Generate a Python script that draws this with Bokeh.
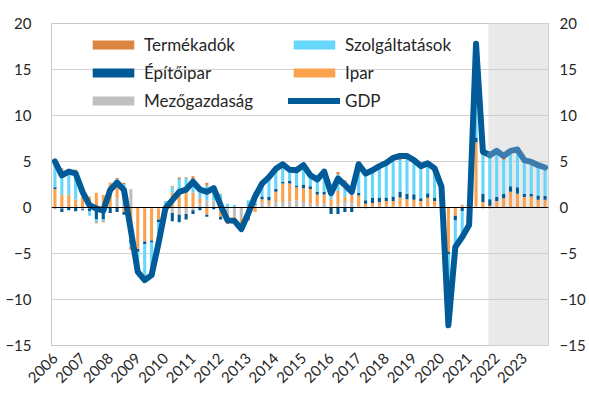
import math
from bokeh.plotting import figure
from bokeh.models import (ColumnDataSource, Range1d, LinearAxis, FixedTicker, Span,
                          BoxAnnotation, Legend, LegendItem)
from bokeh.embed import file_html
from bokeh.resources import INLINE

# ---------------- data (quarterly, 2006Q1 .. 2023Q4) ----------------
year_labels = ["2006", "2007", "2008", "2009", "2010", "2011", "2012", "2013", "2014",
               "2015", "2016", "2017", "2018", "2019", "2020", "2021", "2022", "2023"]

gdp = [5.0, 3.5, 3.9, 3.7,
       1.7, 0.25, -0.1, -0.35,
       1.9, 2.7, 1.9, -2.5,
       -7.0, -7.9, -7.35, -3.9,
       -0.1, 0.8, 1.7, 1.95,
       2.8, 1.96, 1.7, 2.1,
       0.25, -1.4, -1.45, -2.35,
       -0.65, 1.2, 2.6, 3.3,
       4.2, 4.7, 4.1, 4.05,
       4.6, 3.5, 3.05, 3.9,
       1.55, 3.15, 2.45, 1.7,
       4.7, 3.7, 4.05, 4.5,
       4.85, 5.4, 5.6, 5.6,
       5.15, 4.5, 4.8, 4.25,
       2.25, -12.8, -4.3, -3.2,
       -1.9, 17.8, 6.05, 5.7,
       6.15, 5.6, 6.15, 6.3,
       5.15, 4.95, 4.6, 4.35]

mezogazdasag = [-0.2, -0.1, 0.0, 0.0,
                -0.2, -0.1, -0.3, -0.3,
                0.0, 1.0, 2.2, 2.0,
                0.0, -0.1, -0.1, -0.1,
                -0.2, -0.6, -0.8, -0.7,
                -0.3, 0.4, 0.8, 0.8,
                -0.4, -0.8, -1.0, -1.2,
                -0.3, 0.3, 0.6, 0.3,
                0.6, 0.6, 0.7, 0.8,
                0.6, 0.4, 0.3, 0.5,
                0.2, 0.3, 0.6, 0.6,
                0.1, -0.1, 0.1, 0.15,
                0.1, 0.1, 0.2, 0.1,
                0.15, 0.2, 0.1, 0.1,
                0.0, 0.0, 0.0, 0.1,
                0.0, 0.1, -0.1, -0.1,
                0.0, 0.0, 0.0, 0.0,
                0.0, 0.0, 0.0, 0.0]

ipar = [2.0, 1.35, 1.4, 0.85,
        1.2, 1.2, 1.6, 1.35,
        2.6, 1.6, -0.5, -3.5,
        -4.5, -3.6, -3.5, -1.2,
        0.3, 1.6, 1.9, 2.0,
        1.6, 0.6, -0.8, 0.0,
        -0.6, -0.5, -0.3, -0.8,
        -0.8, -0.5, 0.3, 0.5,
        1.1, 2.0, 1.9, 1.4,
        1.5, 1.6, 1.1, 0.9,
        0.7, 1.5, 0.6, 0.8,
        1.2, 0.4, 0.4, 0.45,
        0.6, 0.6, 0.9, 0.8,
        0.7, 0.5, 0.95, 0.6,
        0.3, -4.8, -0.9, 0.2,
        0.4, 7.0, 0.6, 0.2,
        0.7, 1.0, 1.7, 1.5,
        1.15, 1.2, 0.85, 0.85]

epitoipar = [0.2, -0.4, -0.3, -0.4,
             -0.1, -0.3, -1.0, -1.0,
             -0.6, -0.5, -0.3, -0.4,
             -0.3, -0.3, -0.2, -0.3,
             -0.4, -0.9, -0.8, -0.6,
             -0.4, -0.3, -0.2, -0.2,
             -0.3, -0.2, -0.2, -0.1,
             -0.2, 0.1, 0.3, 0.35,
             0.35, 0.2, 0.3, 0.2,
             0.4, 0.3, 0.3, 0.3,
             -0.7, -0.7, -0.5, -0.5,
             0.3, 0.4, 0.6, 0.5,
             0.4, 0.5, 0.6, 0.6,
             0.6, 0.3, 0.5, 0.4,
             0.3, -0.3, -0.5, -0.4,
             -0.2, 0.5, 0.9, 0.7,
             0.45, 0.5, 0.6, 0.7,
             0.35, 0.3, 0.45, 0.4]

szolgaltatasok = [2.7, 2.7, 2.2, 3.0,
                  0.8, -0.5, -0.3, -0.2,
                  0.0, 0.5, 0.35, -0.4,
                  -1.9, -3.4, -3.1, -2.0,
                  0.4, 0.6, 1.2, 1.2,
                  1.5, 1.1, 1.6, 1.2,
                  1.4, 0.4, 0.3, -0.1,
                  0.8, 1.2, 1.4, 2.0,
                  1.8, 1.5, 1.0, 1.5,
                  1.7, 1.0, 1.3, 2.0,
                  1.2, 1.8, 1.6, 0.7,
                  2.9, 2.8, 2.8, 3.2,
                  3.5, 3.9, 3.5, 3.8,
                  3.4, 3.3, 3.0, 2.95,
                  1.5, -6.5, -2.5, -2.6,
                  -1.5, 8.6, 4.2, 4.6,
                  4.6, 3.7, 3.5, 3.7,
                  3.3, 3.1, 3.0, 2.85]

termekadok = [0.25, 0.2, 0.15, 0.25,
              0.1, 0.0, -0.1, -0.1,
              0.1, 0.1, 0.15, -0.3,
              -0.3, -0.5, -0.4, -0.3,
              -0.2, 0.1, 0.15, 0.1,
              0.3, 0.1, 0.3, 0.3,
              0.1, -0.3, -0.25, -0.15,
              -0.15, 0.1, 0.0, 0.15,
              0.3, 0.4, 0.2, 0.15,
              0.4, 0.2, 0.15, 0.2,
              0.15, 0.25, 0.15, 0.1,
              0.2, 0.2, 0.15, 0.2,
              0.25, 0.3, 0.35, 0.3,
              0.3, 0.2, 0.25, 0.2,
              0.15, -1.2, -0.4, -0.5,
              -0.6, 1.6, 0.55, 0.3,
              0.35, 0.35, 0.3, 0.35,
              0.35, 0.35, 0.3, 0.25]

forecast_start = 63  # 2021Q4: first forecast quarter

# ---------------- styling ----------------
FONT = "Lato"
TXT = "#262626"
series = [("Mezőgazdaság", mezogazdasag, "#bfbfbf"),
          ("Ipar", ipar, "#fba24f"),
          ("Építőipar", epitoipar, "#005a96"),
          ("Szolgáltatások", szolgaltatasok, "#66d6fb"),
          ("Termékadók", termekadok, "#de8442")]
gdp_color = "#005b98"
gdp_fc_color = "#3c7caf"

n = len(gdp)
x = list(range(n))
data = {"x": x}
pos_keys, neg_keys, colors = [], [], []
for i, (name, vals, col) in enumerate(series):
    data[f"p{i}"] = [max(v, 0.0) for v in vals]
    data[f"n{i}"] = [min(v, 0.0) for v in vals]
    pos_keys.append(f"p{i}")
    neg_keys.append(f"n{i}")
    colors.append(col)
src = ColumnDataSource(data)

yticks = [-15, -10, -5, 0, 5, 10, 15, 20]

p = figure(width=588, height=390,
           x_range=Range1d(-0.5, n - 0.5), y_range=Range1d(-15, 20),
           output_backend="svg", toolbar_location=None,
           min_border_left=51, min_border_right=36, min_border_top=23, min_border_bottom=45)
p.outline_line_color = "#c8c8c8"
p.background_fill_color = "white"
p.xgrid.visible = False
p.ygrid.ticker = FixedTicker(ticks=yticks)
p.ygrid.grid_line_color = "#d0d0d0"

# forecast shading
p.add_layout(BoxAnnotation(left=forecast_start - 0.2, right=n - 0.5,
                           fill_color="#e9e9e9", fill_alpha=1.0, line_color=None, level="image"))

# axes styling
def style_axis(ax, standoff):
    ax.axis_line_color = None
    ax.major_tick_line_color = None
    ax.minor_tick_line_color = None
    ax.major_label_text_font = FONT
    ax.major_label_text_font_size = "15px"
    ax.major_label_text_color = TXT
    ax.major_label_standoff = standoff

yl = p.yaxis[0]
yl.ticker = FixedTicker(ticks=yticks)
style_axis(yl, 14)

yr = LinearAxis(ticker=FixedTicker(ticks=yticks))
style_axis(yr, 5)
p.add_layout(yr, "right")

xa = p.xaxis[0]
xa.ticker = FixedTicker(ticks=[4 * k for k in range(len(year_labels))])
xa.major_label_overrides = {4 * k: lab for k, lab in enumerate(year_labels)}
xa.major_label_orientation = math.pi / 4
style_axis(xa, 4)

# stacked bars
rp = p.vbar_stack(pos_keys, x="x", width=0.45, fill_color=colors, line_color=None, source=src)
rn = p.vbar_stack(neg_keys, x="x", width=0.45, fill_color=colors, line_color=None, source=src)

p.add_layout(Span(location=0, dimension="width", line_color="black", line_width=1))

# GDP line (actual + forecast)
r_gdp = p.line(x[:forecast_start + 1], gdp[:forecast_start + 1], line_color=gdp_color,
               line_width=6, line_join="round", line_cap="round")
p.line(x[forecast_start:], gdp[forecast_start:], line_color=gdp_fc_color,
       line_width=6, line_join="round", line_cap="round")

# legends (two columns)
def make_legend(items, vx):
    lg = Legend(items=items, location=(vx, 234), orientation="vertical",
                glyph_width=52, glyph_height=11, label_height=20, spacing=7,
                label_standoff=5, padding=0, margin=0,
                label_text_font=FONT, label_text_font_size="17px", label_text_color=TXT,
                border_line_color=None, background_fill_alpha=0)
    return lg

name_to_r = {s[0]: rp[i] for i, s in enumerate(series)}
left_items = [LegendItem(label="Termékadók", renderers=[name_to_r["Termékadók"]]),
              LegendItem(label="Építőipar", renderers=[name_to_r["Építőipar"]]),
              LegendItem(label="Mezőgazdaság", renderers=[name_to_r["Mezőgazdaság"]])]
right_items = [LegendItem(label="Szolgáltatások", renderers=[name_to_r["Szolgáltatások"]]),
               LegendItem(label="Ipar", renderers=[name_to_r["Ipar"]]),
               LegendItem(label="GDP", renderers=[r_gdp])]
p.add_layout(make_legend(left_items, 36))
p.add_layout(make_legend(right_items, 237))

open("out.html", "w").write(file_html(p, INLINE))
